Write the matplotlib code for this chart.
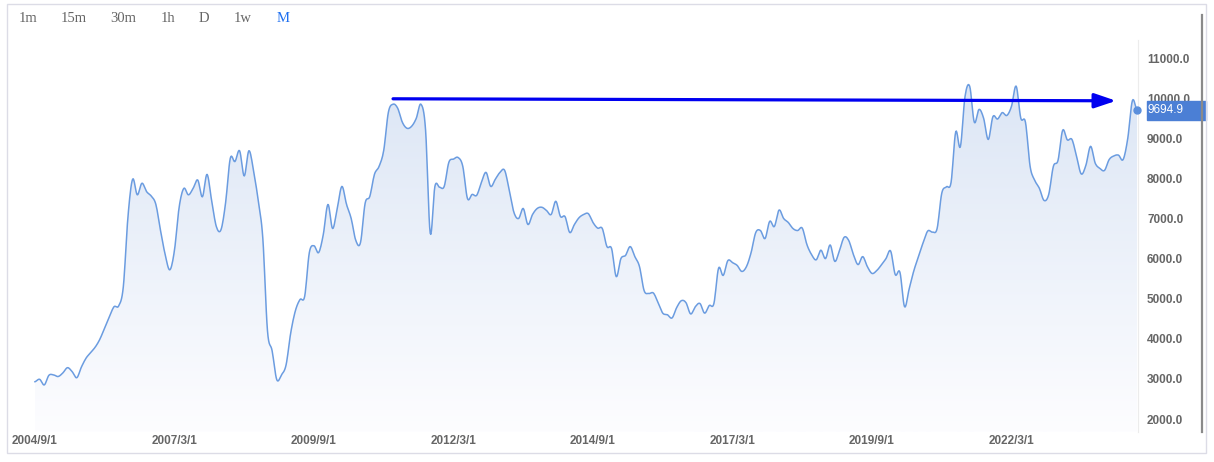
import numpy as np
import matplotlib.pyplot as plt
from matplotlib.colors import LinearSegmentedColormap
from matplotlib.patches import Rectangle
from matplotlib.lines import Line2D
import matplotlib.transforms as mtransforms

# monthly values, 2004/9 .. 2024/6
prices = [
    2930, 2990, 2850, 3090,
    3100, 3060, 3150, 3280, 3180, 3030, 3300, 3520, 3660, 3800, 4000, 4280,
    4550, 4800, 4820, 5300, 7050, 7980, 7590, 7880, 7670, 7560, 7350, 6700,
    6100, 5720, 6210, 7280, 7750, 7590, 7750, 7960, 7540, 8100, 7440, 6800,
    6720, 7400, 8500, 8420, 8690, 8060, 8690, 8200, 7450, 6500, 4200, 3700,
    2980, 3100, 3350, 4150, 4700, 4980, 5060, 6150, 6320, 6150, 6600, 7350,
    6750, 7250, 7800, 7350, 7000, 6450, 6400, 7380, 7550, 8100, 8300, 8700,
    9650, 9850, 9750, 9400, 9250, 9300, 9500, 9850, 9200, 6630, 7800, 7780,
    7800, 8400, 8480, 8520, 8300, 7500, 7600, 7580, 7900, 8150, 7800, 7980,
    8150, 8200, 7700, 7150, 7000, 7250, 6850, 7100, 7250, 7280, 7200, 7100,
    7430, 7050, 7045, 6650, 6850, 7020, 7100, 7120, 6900, 6760, 6750, 6300,
    6250, 5550, 6000, 6080, 6300, 6050, 5800, 5200, 5130, 5140, 4900, 4640,
    4600, 4520, 4780, 4950, 4900, 4620, 4800, 4880, 4640, 4830, 4880, 5760,
    5580, 5950, 5900, 5830, 5680, 5800, 6150, 6650, 6700, 6500, 6930, 6800,
    7210, 7000, 6900, 6750, 6700, 6760, 6350, 6100, 5970, 6210, 6000, 6340,
    5930, 6200, 6530, 6450, 6100, 5850, 6050, 5800, 5630, 5700, 5840, 6000,
    6190, 5600, 5660, 4800, 5250, 5700, 6050, 6400, 6690, 6660, 6750, 7630,
    7790, 7900, 9160, 8790, 10040, 10300, 9400, 9720, 9500, 8970, 9540, 9480,
    9640, 9570, 9800, 10300, 9500, 9400, 8300, 7950, 7750, 7450, 7600, 8300,
    8450, 9200, 8960, 8970, 8540, 8110, 8330, 8800, 8380, 8250, 8200, 8470,
    8560, 8580, 8470, 9000, 9940, 9694.9,
]
tick_pos = [0, 30, 60, 90, 120, 150, 180, 210]
tick_labels = ['2004/9/1', '2007/3/1', '2009/9/1', '2012/3/1',
               '2014/9/1', '2017/3/1', '2019/9/1', '2022/3/1']
y_ticks = [2000, 3000, 4000, 5000, 6000, 7000, 8000, 9000, 10000, 11000]
buttons = ['1m', '15m', '30m', '1h', 'D', '1w', 'M']
button_x = [28, 74, 123, 168, 204, 243, 283]

W, H = 1214, 462
x = np.arange(len(prices))
y = np.array(prices, dtype=float)


def smooth(xs, ys, steps=8):
    # catmull-rom curve through every data point (rendering only)
    p = np.concatenate([[ys[0]], ys, [ys[-1]]])
    t = np.linspace(0, 1, steps, endpoint=False)
    sx, sy = [], []
    for i in range(len(ys) - 1):
        p0, p1, p2, p3 = p[i], p[i + 1], p[i + 2], p[i + 3]
        seg = 0.5 * (2 * p1 + (-p0 + p2) * t + (2 * p0 - 5 * p1 + 4 * p2 - p3) * t ** 2
                     + (-p0 + 3 * p1 - 3 * p2 + p3) * t ** 3)
        sx.extend(xs[i] + t * (xs[i + 1] - xs[i]))
        sy.extend(seg)
    sx.append(xs[-1])
    sy.append(ys[-1])
    return np.array(sx), np.array(sy)


cx, cy = smooth(x, y)

fig = plt.figure(figsize=(W / 100, H / 100), dpi=100)
ax = fig.add_axes([8 / W, (H - 432) / H, 1130 / W, 392 / H])
ax.set_xlim(-5.8, 237.2)
ax.set_ylim(1676, 11451)

# gradient area under the line
cmap = LinearSegmentedColormap.from_list('fade', ['#fdfdff', '#dce6f5'])
grad = np.linspace(0, 1, 256).reshape(-1, 1)
img = ax.imshow(grad, aspect='auto', cmap=cmap, origin='lower',
                extent=[x[0], x[-1], 1676, 10400], zorder=1)
poly = ax.fill_between(cx, cy, 1676, color='none', lw=0)
img.set_clip_path(poly.get_paths()[0], transform=ax.transData)

ax.plot(cx, cy, color='#6b9ce0', lw=1.1, zorder=3)
ax.plot(x[-1], y[-1], 'o', ms=5, color='#5b8fdc', zorder=4, clip_on=False)

# arrow drawn over the chart
ax.annotate('', xy=(232.5, 9935), xytext=(77, 9985),
            arrowprops=dict(arrowstyle='-|>,head_length=0.65,head_width=0.22',
                            mutation_scale=20, lw=2.3, color='#0000f0',
                            shrinkA=0, shrinkB=0), zorder=5)

ax.set_xticks(tick_pos)
ax.set_xticklabels(tick_labels)
ax.set_yticks(y_ticks)
ax.set_yticklabels([f'{v:.1f}' for v in y_ticks])
ax.yaxis.tick_right()
for lab in ax.get_yticklabels():
    lab.set_horizontalalignment('left')
ax.tick_params(axis='x', length=0, pad=2, labelsize=8.5, labelcolor='#666666')
ax.tick_params(axis='y', length=0, pad=6.5, labelsize=8.5, labelcolor='#666666')
for lab in ax.get_xticklabels() + ax.get_yticklabels():
    lab.set_fontweight('bold')
    lab.set_family('Liberation Sans')
for s in ['top', 'left', 'bottom']:
    ax.spines[s].set_visible(False)
ax.spines['right'].set_color('#ececec')

# current value tag
tr = mtransforms.blended_transform_factory(ax.transAxes, ax.transData)
ax.add_patch(Rectangle((1139 / 1130, y[-1] - 237), 59 / 1130, 474,
                       transform=tr, color='#4b7fd5', clip_on=False, zorder=6))
ax.text(1140 / 1130, y[-1], f'{y[-1]:.1f}', transform=tr, color='white',
        fontsize=8.5, family='Liberation Sans', va='center', ha='left',
        zorder=7, clip_on=False)

# outer frame and right bar
fig.add_artist(Rectangle((7 / W, 1 - 453 / H), 1199 / W, 449 / H,
                         transform=fig.transFigure, fill=False,
                         ec='#dcdce6', lw=1))
fig.add_artist(Line2D([1202 / W, 1202 / W], [1 - 15 / H, 1 - 432 / H],
                      transform=fig.transFigure, color='#8a8a8a', lw=1.6))

for b, bx in zip(buttons, button_x):
    fig.text(bx / W, 1 - 18 / H, b, ha='center', va='center', fontsize=10.5,
             family='Liberation Serif',
             color='#1e6ff0' if b == 'M' else '#666666')

fig.savefig('out.png', dpi=100)
